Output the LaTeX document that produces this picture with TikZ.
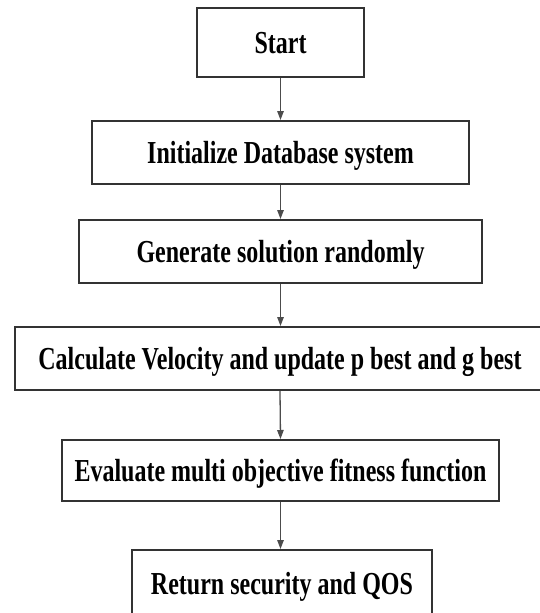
\documentclass[tikz,border=0pt]{standalone}
\usepackage{fontspec}
\usetikzlibrary{arrows.meta}
\newfontfamily\boxfont{Liberation Serif}[FakeStretch=0.75]

\tikzset{
  stepbox/.style={draw=black!80, line width=2pt, fill=white, inner sep=0pt,
    font=\boxfont\bfseries\fontsize{32}{36}\selectfont,
    text height=22pt, text depth=0pt, align=center},
  flow/.style={draw=black!70, line width=1.3pt,
    -{Triangle[width=6.5pt,length=9pt]}}
}

\begin{document}
\begin{tikzpicture}[x=1pt,y=-1pt]
  \useasboundingbox (0,0) rectangle (540,613);
  \clip (0,0) rectangle (540,613);

  \node[stepbox, minimum width=167pt, minimum height=69pt] (b1) at (280.5,42.5) {Start};
  \node[stepbox, minimum width=377pt, minimum height=63pt] (b2) at (280.5,152.5) {Initialize Database system};
  \node[stepbox, minimum width=403pt, minimum height=63pt] (b3) at (280.5,251.5) {Generate solution randomly};
  \node[stepbox, minimum width=531pt, minimum height=63pt] (b4) at (280,358.5) {Calculate Velocity and update p best and g best};
  \node[stepbox, minimum width=437pt, minimum height=61pt] (b5) at (280.5,470.5) {Evaluate multi objective fitness function};
  \node[stepbox, minimum width=300pt, minimum height=66pt] (b6) at (282,583) {Return security and QOS};

  \draw[flow] (b1.south) -- (b2.north);
  \draw[flow] (b2.south) -- (b3.north);
  \draw[flow] (b3.south) -- (b3.south |- b4.north);
  \draw[flow] (b4.south) -- (b5.north);
  \draw[flow] (b5.south) -- (b5.south |- b6.north);
\end{tikzpicture}
\end{document}
